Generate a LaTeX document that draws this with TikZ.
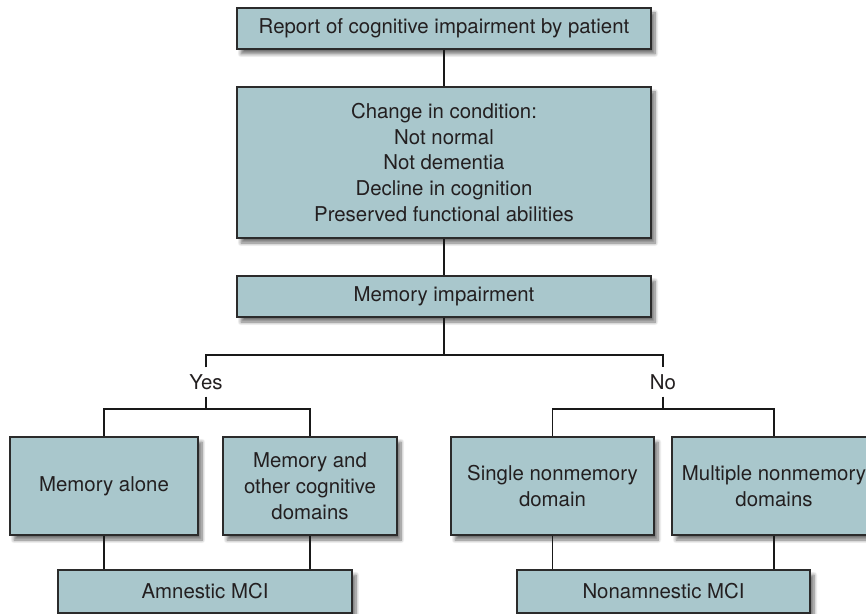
\documentclass[tikz,border=0pt]{standalone}
\usepackage{fontspec}
\setsansfont{TeX Gyre Heros}
\usetikzlibrary{shadows.blur}
\definecolor{cbox}{HTML}{A9C7CC}
\definecolor{cline}{HTML}{2B2B2B}
\definecolor{ctext}{HTML}{231F20}
\tikzset{
  every picture/.style={font=\sffamily\fontsize{10.2}{12.9}\selectfont, x=0.5pt, y=-0.5pt},
  box/.style={draw=cline, fill=cbox, line width=0.6pt, text=ctext, align=center, inner sep=0pt, minimum width=#1,
    blur shadow={shadow xshift=2pt, shadow yshift=-2.5pt, shadow blur steps=8, shadow opacity=55}},
  link/.style={draw=black!90, line width=0.85pt},
  answer/.style={text=ctext, inner sep=3.3pt},
}

\begin{document}
\begin{tikzpicture}
  \useasboundingbox (0,0) rectangle (866,614);
  \clip (0,0) rectangle (866,614);
  % main column
  \node[box=207pt, minimum height=20.5pt] (report) at (444,28.5) {Report of cognitive impairment by patient};
  \node[box=207pt, minimum height=75.5pt] (change) at (444,162.5) {Change in condition:\\Not normal\\Not dementia\\Decline in cognition\\Preserved functional abilities};
  \node[box=207pt, minimum height=20.5pt] (memory) at (444,296.5) {Memory impairment};
  \node[answer] (yes) at (206,382) {Yes};
  \node[answer] (no) at (663,382) {No};
  \coordinate (bar) at (444,355);
  \coordinate (yesbar) at (206,409);
  \coordinate (nobar) at (663,409);
  % subtypes
  \node[box=94pt, minimum height=49pt] (alone) at (104,486) {Memory alone};
  \node[box=87pt, minimum height=49pt] (other) at (310,486) {Memory and\\other cognitive\\domains};
  \node[box=101.5pt, minimum height=49pt] (single) at (552.5,486) {Single nonmemory\\domain};
  \node[box=102pt, minimum height=49pt] (multiple) at (774,486) {Multiple nonmemory\\domains};
  \node[box=147pt, minimum height=21.5pt] (amnestic) at (205,591.5) {Amnestic MCI};
  \node[box=146.5pt, minimum height=21.5pt] (nonamnestic) at (663.5,591.5) {Nonamnestic MCI};
  % connectors
  \draw[link] (report) -- (change);
  \draw[link] (change) -- (memory);
  \draw[link] (memory) -- (bar);
  \draw[link] (yes.north) |- (bar) -| (no.north);
  \draw[link] (yes.south) -- (yesbar);
  \draw[link] (no.south) -- (nobar);
  \draw[link] (alone.north) |- (yesbar) -| (other.north);
  \draw[link] (single.north) |- (nobar) -| (multiple.north);
  \draw[link] (alone.south) -- (alone.south |- amnestic.north);
  \draw[link] (other.south) -- (other.south |- amnestic.north);
  \draw[link] (single.south) -- (single.south |- nonamnestic.north);
  \draw[link] (multiple.south) -- (multiple.south |- nonamnestic.north);
\end{tikzpicture}
\end{document}
